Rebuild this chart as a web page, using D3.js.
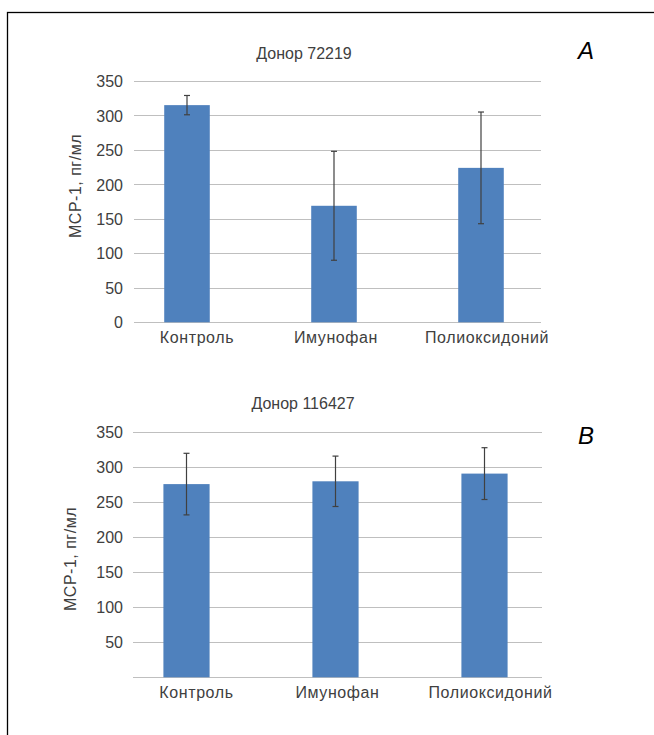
<!DOCTYPE html>
<html>
<head>
<meta charset="utf-8">
<script src="https://cdn.jsdelivr.net/npm/d3@7"></script>
<style>
  body { margin: 0; background: #fff; }
  svg text { font-family: "Liberation Sans", Arial, sans-serif; fill: #404040; }
</style>
</head>
<body>
<svg id="chart" width="654" height="735"></svg>
<script>
var categories = ['Контроль', 'Имунофан', 'Полиоксидоний'];
var yTicksA = [0, 50, 100, 150, 200, 250, 300, 350];
var yTicksB = [50, 100, 150, 200, 250, 300, 350];

// донор 72219
var meanA = [315, 169, 224];
var errA = [14, 79, 81];

// донор 116427
var meanB = [276, 280, 291];
var errB = [44, 36, 37];

// сдвиг подписей категорий относительно центра столбца
var catShift = [10, 2, 6];

var svg = d3.select('#chart');

// рамка
svg.append('rect')
    .attr('x', 7.5).attr('y', 12.5)
    .attr('width', 700).attr('height', 800)
    .attr('fill', 'none')
    .attr('stroke', '#000')
    .attr('stroke-width', 1.3);

function drawPanel (opt) {
    var g = svg.append('g');

    var y = d3.scaleLinear().domain([0, 350]).range([opt.bottom, opt.top]);
    var x = d3.scaleBand().domain(categories)
        .range([opt.left, opt.right])
        .paddingInner(0.69).paddingOuter(0.345);

    // сетка
    g.selectAll('line.grid')
        .data(opt.ticks.concat(opt.ticks.indexOf(0) < 0 ? [0] : []))
        .enter().append('line')
        .attr('class', 'grid')
        .attr('x1', opt.gridL).attr('x2', opt.gridR)
        .attr('y1', function (d) { return Math.round(y(d)) + 0.5; })
        .attr('y2', function (d) { return Math.round(y(d)) + 0.5; })
        .attr('stroke', '#bfbfbf')
        .attr('stroke-width', 1);

    var yAxis = d3.axisLeft(y).tickValues(opt.ticks).tickSize(0).tickPadding(0);
    var ax = g.append('g')
        .attr('transform', 'translate(' + opt.tickX + ',0)')
        .call(yAxis);
    ax.select('.domain').remove();
    ax.selectAll('text')
        .style('font-size', '16px')
        .attr('dy', '0.35em');

    // столбцы
    g.selectAll('rect.bar')
        .data(opt.means)
        .enter().append('rect')
        .attr('class', 'bar')
        .attr('x', function (d, i) { return x(categories[i]); })
        .attr('width', x.bandwidth())
        .attr('y', function (d) { return y(d); })
        .attr('height', function (d) { return y(0) - y(d); })
        .attr('fill', '#4f81bd');

    // планки погрешностей
    var eb = g.selectAll('g.err')
        .data(opt.means)
        .enter().append('g')
        .attr('class', 'err')
        .attr('stroke', '#404040')
        .attr('stroke-width', 1.2);
    eb.append('line')
        .attr('x1', function (d, i) { return x(categories[i]) + x.bandwidth() / 2; })
        .attr('x2', function (d, i) { return x(categories[i]) + x.bandwidth() / 2; })
        .attr('y1', function (d, i) { return y(d + opt.errs[i]); })
        .attr('y2', function (d, i) { return y(d - opt.errs[i]); });
    [1, -1].forEach(function (s) {
        eb.append('line')
            .attr('x1', function (d, i) { return x(categories[i]) + x.bandwidth() / 2 - 3; })
            .attr('x2', function (d, i) { return x(categories[i]) + x.bandwidth() / 2 + 3; })
            .attr('y1', function (d, i) { return y(d + s * opt.errs[i]); })
            .attr('y2', function (d, i) { return y(d + s * opt.errs[i]); });
    });

    // подписи категорий
    g.selectAll('text.cat')
        .data(categories)
        .enter().append('text')
        .attr('class', 'cat')
        .attr('x', function (d, i) { return x(d) + x.bandwidth() / 2 + catShift[i]; })
        .attr('y', opt.bottom + 21)
        .attr('text-anchor', 'middle')
        .style('font-size', '16px')
        .style('letter-spacing', '0.6px')
        .text(function (d) { return d; });

    // заголовок
    g.append('text')
        .attr('x', opt.titleX).attr('y', opt.titleY)
        .attr('text-anchor', 'middle')
        .style('font-size', '16px')
        .text(opt.title);

    // подпись оси
    g.append('text')
        .attr('transform', 'translate(' + opt.labelX + ',' + opt.labelY + ') rotate(-90)')
        .attr('text-anchor', 'middle')
        .style('font-size', '16px')
        .style('letter-spacing', '0.5px')
        .text('MCP-1, пг/мл');

    // буква панели
    g.append('text')
        .attr('x', 586).attr('y', opt.letterY)
        .attr('text-anchor', 'middle')
        .style('font-size', '24px')
        .style('font-style', 'italic')
        .style('fill', '#000')
        .text(opt.letter);
}

drawPanel({
    means: meanA, errs: errA, ticks: yTicksA,
    top: 81, bottom: 322.3, left: 113.5, right: 554.5,
    gridL: 134, gridR: 541, tickX: 123,
    title: 'Донор 72219', titleX: 304, titleY: 59,
    labelX: 81, labelY: 186, letter: 'A', letterY: 59
});

drawPanel({
    means: meanB, errs: errB, ticks: yTicksB,
    top: 432.3, bottom: 677.3, left: 112, right: 559,
    gridL: 133, gridR: 542, tickX: 123,
    title: 'Донор 116427', titleX: 303, titleY: 409,
    labelX: 76, labelY: 559, letter: 'B', letterY: 444
});
</script>
</body>
</html>
